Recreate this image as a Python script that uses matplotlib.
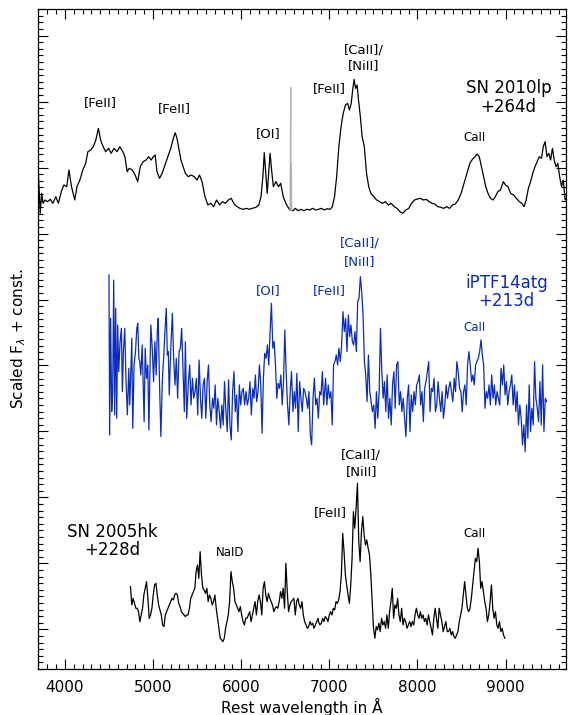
import numpy as np
import matplotlib
matplotlib.use("Agg")
import matplotlib.pyplot as plt
from matplotlib.ticker import MultipleLocator, NullFormatter

plt.rcParams['font.family'] = ['DejaVu Sans']

# ---------------- SN 2010lp (+264d), black -----------------
top_wave = [3699, 3720, 3736, 3753, 3774, 3802, 3835, 3864, 3897, 3926, 3959, 3988, 4021, 4046, 4075,
            4112, 4137, 4170, 4203, 4236, 4261, 4294, 4322, 4351, 4380, 4405, 4434, 4463, 4496, 4525,
            4558, 4591, 4624, 4657, 4681, 4706, 4731, 4764, 4797, 4826, 4855, 4888, 4921, 4950, 4979,
            5003, 5024, 5045, 5074, 5103, 5135, 5168, 5201, 5230, 5251, 5272, 5292, 5317, 5342, 5367,
            5400, 5433, 5466, 5499, 5527, 5556, 5589, 5622, 5655, 5688, 5721, 5755, 5788, 5820, 5854,
            5887, 5920, 5953, 5986, 6023, 6060, 6093, 6126, 6167, 6200, 6225, 6246, 6262, 6279, 6295,
            6312, 6328, 6345, 6365, 6394, 6423, 6448, 6477, 6506, 6539, 6555, 6588, 6613, 6646, 6679,
            6712, 6745, 6778, 6811, 6844, 6877, 6910, 6943, 6976, 7009, 7034, 7059, 7083, 7108, 7133,
            7158, 7183, 7207, 7228, 7248, 7265, 7281, 7298, 7315, 7331, 7352, 7372, 7397, 7422, 7447,
            7471, 7504, 7537, 7570, 7603, 7636, 7669, 7702, 7735, 7768, 7801, 7834, 7867, 7901, 7933,
            7966, 7999, 8033, 8066, 8099, 8132, 8165, 8198, 8231, 8264, 8297, 8330, 8363, 8396, 8429,
            8462, 8495, 8528, 8561, 8594, 8623, 8652, 8676, 8701, 8726, 8751, 8775, 8800, 8829, 8858,
            8883, 8912, 8941, 8974, 8998, 9027, 9056, 9089, 9122, 9155, 9184, 9209, 9233, 9258, 9283,
            9308, 9333, 9357, 9382, 9407, 9427, 9448, 9469, 9490, 9510, 9531, 9551, 9572, 9592, 9613,
            9634, 9654, 9675, 9696]
top_flux = [1.80, 0.60, 1.20, 0.90, 1.00, 0.95, 1.02, 0.90, 1.10, 0.90, 1.25, 1.45, 1.40, 1.90, 1.40,
            1.00, 1.40, 1.60, 1.90, 2.10, 2.45, 2.50, 2.60, 2.80, 3.15, 2.80, 2.60, 2.45, 2.55, 2.40,
            2.55, 2.45, 2.60, 2.45, 2.30, 1.85, 1.95, 1.90, 1.75, 1.55, 2.00, 2.15, 2.20, 2.30, 2.20,
            2.30, 2.35, 1.85, 1.65, 1.80, 2.05, 2.30, 2.55, 2.85, 3.02, 2.85, 2.55, 2.20, 2.00, 1.80,
            1.70, 1.75, 1.70, 1.60, 1.75, 1.55, 1.10, 0.85, 0.90, 0.80, 1.00, 0.85, 0.95, 0.90, 1.00,
            1.05, 0.88, 0.80, 0.75, 0.72, 0.75, 0.72, 0.75, 0.78, 0.85, 1.10, 1.70, 2.42, 1.80, 1.20,
            1.80, 2.40, 1.90, 1.40, 1.55, 1.40, 1.50, 1.10, 0.90, 0.75, 0.70, 0.68, 0.75, 0.68, 0.72,
            0.68, 0.72, 0.70, 0.75, 0.70, 0.72, 0.75, 0.70, 0.74, 0.72, 0.80, 1.10, 1.70, 2.60, 3.20,
            3.60, 3.85, 3.90, 3.70, 3.90, 4.30, 4.62, 4.35, 4.45, 4.00, 3.50, 2.90, 2.60, 1.80, 1.40,
            1.20, 1.10, 1.00, 0.95, 0.90, 0.95, 0.85, 0.90, 0.80, 0.75, 0.65, 0.60, 0.70, 0.75, 0.90,
            1.00, 1.03, 1.05, 1.00, 1.02, 0.95, 0.90, 0.88, 0.80, 0.78, 0.75, 0.80, 0.75, 0.85, 0.88,
            1.00, 1.20, 1.50, 1.80, 2.10, 2.22, 2.30, 2.38, 2.30, 2.00, 1.70, 1.40, 1.20, 1.05, 1.00,
            1.10, 1.25, 1.30, 1.55, 1.45, 1.40, 1.20, 1.15, 1.05, 0.95, 0.90, 0.80, 1.00, 1.35, 1.55,
            1.80, 2.00, 2.15, 2.30, 2.25, 2.60, 2.75, 2.30, 2.40, 2.20, 2.55, 2.20, 2.00, 2.10, 1.70,
            1.40, 1.60, 1.00, 1.10]
# narrow H-alpha region shown in grey
top_halpha_wave = [6555, 6562, 6565, 6569, 6573]
top_halpha_flux = [0.70, 4.38, 0.75, 2.10, 0.68]
top_scale, top_const = 0.505, 6.003

# ---------------- iPTF14atg (+213d), blue -----------------
mid_wave_a = [4500, 4508, 4519, 4531, 4542, 4554, 4565, 4576, 4588, 4599, 4611, 4626, 4641, 4652, 4664,
              4679, 4694, 4709, 4725, 4736, 4747, 4759, 4770, 4785, 4801, 4816, 4827, 4839, 4850, 4861,
              4877, 4888, 4899, 4911, 4926, 4941, 4953, 4964, 4975, 4991, 5006, 5021, 5036, 5048, 5059,
              5074, 5089, 5105, 5120, 5135, 5150, 5162, 5173, 5184, 5203, 5219, 5234, 5249, 5264, 5279,
              5295, 5310, 5325, 5340, 5355, 5367, 5382, 5401, 5416, 5431, 5447, 5462, 5477, 5492, 5507,
              5523, 5538, 5553, 5568, 5583, 5599, 5614, 5629, 5644, 5659, 5675, 5690, 5705, 5720, 5735,
              5751, 5766, 5781, 5796, 5811, 5827, 5842, 5857, 5872, 5887, 5903, 5918, 5933, 5948, 5963,
              5979, 5994, 6009, 6024, 6039, 6055, 6070, 6085, 6100, 6115, 6131, 6146, 6161, 6176, 6191,
              6207, 6222, 6237, 6252, 6267, 6283, 6298, 6313, 6328, 6343, 6359, 6374, 6389, 6404, 6419,
              6435, 6450, 6465, 6480, 6495, 6511, 6526, 6541, 6556, 6571, 6587, 6602, 6617, 6632, 6647,
              6663, 6678, 6693, 6708, 6723, 6739, 6754, 6769, 6784, 6799, 6815, 6830, 6845, 6860, 6875,
              6891, 6906, 6921, 6936]
mid_flux_a = [5.70, 0.90, 4.40, 1.60, 2.20, 5.55, 1.50, 4.70, 1.40, 4.20, 2.80, 3.70, 4.10, 2.20, 3.40,
              4.10, 2.50, 1.50, 2.90, 1.80, 2.70, 3.80, 1.10, 3.00, 3.40, 4.10, 4.25, 3.20, 3.10, 2.70,
              3.60, 2.50, 1.30, 3.50, 2.60, 3.00, 1.05, 2.70, 4.20, 3.50, 2.50, 3.70, 2.70, 4.00, 4.40,
              2.40, 0.85, 2.50, 3.20, 4.00, 4.70, 3.30, 3.40, 2.10, 3.60, 4.55, 3.20, 2.40, 3.20, 2.00,
              3.40, 3.50, 4.10, 2.90, 1.60, 3.70, 1.40, 2.50, 3.00, 1.80, 2.60, 2.00, 2.20, 2.60, 1.50,
              3.15, 2.00, 1.40, 2.40, 2.60, 1.40, 2.50, 3.00, 1.80, 1.30, 2.00, 1.70, 2.40, 1.20, 2.00,
              1.60, 1.10, 1.80, 1.20, 2.50, 1.60, 1.00, 2.55, 1.20, 0.75, 2.20, 2.80, 1.60, 2.10, 1.00,
              2.40, 1.80, 2.20, 2.30, 1.80, 2.20, 1.80, 2.00, 2.50, 1.50, 2.30, 2.00, 2.70, 1.90, 2.20,
              3.00, 2.40, 0.95, 2.60, 3.35, 3.20, 3.60, 3.00, 4.00, 4.85, 3.50, 3.70, 3.00, 2.00, 2.45,
              2.30, 2.70, 1.80, 2.50, 4.05, 2.70, 1.80, 1.20, 2.20, 2.80, 1.60, 2.20, 1.70, 2.75, 1.00,
              2.50, 2.00, 1.60, 2.30, 2.20, 2.00, 1.70, 2.20, 0.90, 0.60, 2.00, 2.60, 1.80, 2.00, 1.40,
              2.20, 2.10, 2.80, 1.80]
# second part sampled on a regular grid from 6957 A to 9465 A
mid_wave_b_range = (6957, 9465)
mid_flux_b = [2.60, 1.80, 2.40, 2.00, 2.20, 1.20, 3.00, 3.10, 3.30, 3.00, 3.50, 3.10, 3.60, 4.60, 4.00,
              4.40, 3.40, 4.50, 3.85, 4.20, 3.70, 3.60, 4.00, 3.40, 4.90, 5.00, 5.65, 5.20, 4.50, 3.10,
              2.70, 1.90, 3.30, 2.20, 1.90, 1.60, 1.80, 1.10, 2.20, 1.40, 2.20, 4.10, 2.80, 2.00, 2.50,
              1.60, 2.70, 1.40, 2.00, 1.20, 2.40, 2.80, 1.70, 3.00, 3.10, 1.80, 2.20, 1.60, 2.00, 1.40,
              0.85, 2.00, 2.40, 1.00, 2.10, 1.60, 2.20, 1.80, 2.40, 2.50, 2.70, 1.80, 2.20, 1.30, 2.30,
              2.50, 2.80, 3.10, 1.60, 2.30, 2.20, 2.60, 1.60, 1.80, 2.50, 2.00, 1.60, 2.20, 1.40, 1.80,
              2.40, 2.00, 2.30, 2.50, 2.20, 1.90, 2.60, 2.20, 3.10, 2.80, 2.30, 2.20, 1.60, 2.20, 2.40,
              1.80, 3.00, 3.40, 3.00, 2.50, 2.70, 2.40, 3.00, 3.10, 3.20, 3.40, 3.75, 3.30, 3.00, 1.70,
              2.20, 2.00, 2.40, 1.80, 2.70, 2.00, 2.40, 1.80, 2.20, 2.00, 1.80, 2.90, 2.40, 3.00, 2.10,
              2.50, 1.80, 2.20, 2.40, 2.70, 1.80, 2.40, 1.60, 2.20, 1.20, 1.80, 1.40, 0.60, 1.20, 0.40,
              1.80, 0.80, 2.40, 1.00, 1.70, 1.20, 3.10, 2.00, 1.70, 1.30, 2.50, 1.20, 3.00, 1.00, 2.00,
              1.90]
mid_scale, mid_const = 0.505, 2.493

# ---------------- SN 2005hk (+228d), black -----------------
bot_wave_a_range = (4744, 6872)
bot_flux_a = [2.15, 1.60, 1.80, 1.65, 1.50, 1.50, 1.40, 1.10, 1.30, 1.50, 1.90, 2.10, 2.30, 1.80, 1.20,
              1.30, 1.50, 1.90, 2.20, 2.25, 1.90, 1.60, 1.45, 1.30, 1.00, 0.95, 1.30, 1.40, 1.50, 1.60,
              1.70, 1.80, 1.75, 1.90, 1.95, 1.90, 1.65, 1.55, 1.40, 1.35, 1.30, 1.25, 1.30, 1.30, 1.50,
              1.80, 1.90, 2.00, 2.10, 2.60, 2.80, 2.40, 3.20, 2.50, 2.10, 2.05, 1.95, 2.10, 1.70, 1.90,
              1.80, 1.60, 1.70, 1.90, 1.50, 1.20, 0.90, 0.60, 0.55, 0.50, 0.60, 0.90, 1.10, 1.30, 1.70,
              2.60, 2.30, 2.10, 1.70, 1.60, 1.50, 1.40, 1.55, 1.30, 1.10, 1.00, 1.20, 1.20, 1.30, 1.40,
              1.10, 1.30, 1.50, 1.70, 1.30, 1.70, 1.90, 1.70, 1.30, 2.10, 2.30, 1.90, 1.70, 1.95, 1.80,
              1.70, 1.60, 1.40, 1.50, 1.55, 1.50, 1.70, 2.00, 1.80, 2.10, 1.50, 2.85, 2.00, 1.40, 1.60,
              1.70, 1.75, 1.80, 1.30, 1.70, 1.80, 1.60, 1.50, 1.70, 1.30, 1.10, 1.00, 0.90, 0.95, 1.10,
              1.00, 1.05, 0.90, 1.00, 1.10, 1.20]
bot_wave_b_range = (6878, 8991)
bot_flux_b = [1.10, 1.00, 1.05, 1.20, 1.10, 1.25, 1.20, 1.10, 1.30, 1.40, 1.30, 1.50, 1.45, 1.70, 1.65,
              1.75, 2.00, 2.50, 3.75, 3.20, 2.50, 2.20, 1.90, 1.65, 2.20, 3.00, 4.40, 3.90, 4.50, 5.25,
              3.50, 2.90, 3.80, 4.25, 3.70, 3.40, 3.55, 3.30, 3.10, 2.50, 1.70, 0.90, 0.60, 0.95, 0.85,
              1.05, 0.80, 1.20, 1.00, 1.10, 0.90, 1.30, 0.90, 1.40, 1.70, 2.10, 1.20, 1.60, 1.50, 1.80,
              1.30, 1.10, 1.50, 1.00, 1.20, 1.10, 0.90, 1.00, 1.10, 0.95, 1.10, 1.00, 1.30, 1.50, 1.30,
              1.20, 1.40, 1.20, 1.30, 1.10, 1.20, 1.00, 1.30, 1.10, 0.90, 0.70, 1.20, 1.50, 1.20, 0.90,
              1.50, 1.30, 1.10, 0.80, 0.95, 1.10, 0.80, 0.80, 0.90, 0.70, 0.80, 0.65, 0.60, 0.70, 0.80,
              1.10, 1.30, 1.50, 1.90, 2.30, 1.90, 1.50, 1.40, 1.50, 1.80, 2.20, 2.60, 3.00, 2.90, 3.30,
              2.90, 2.10, 2.30, 2.00, 1.70, 1.50, 1.10, 1.30, 1.70, 2.20, 1.50, 1.20, 1.40, 1.00, 0.90,
              1.10, 0.80, 0.90, 0.70, 0.60]
bot_scale, bot_const = 0.505, -0.437

# ---------------- figure -----------------
BLUE = '#0a2cbf'
fig = plt.figure(figsize=(5.68, 7.15), dpi=100)
ax = fig.add_axes([0.0669, 0.0643, 0.9296, 0.9238])

tw = np.array(top_wave); tf = np.array(top_flux)
ax.plot(tw, top_const + top_scale * tf, color='black', lw=0.9)
ax.plot(top_halpha_wave, top_const + top_scale * np.array(top_halpha_flux), color='#b0b0b0', lw=0.9)

mw = np.concatenate([mid_wave_a, np.linspace(*mid_wave_b_range, len(mid_flux_b))])
mf = np.concatenate([mid_flux_a, mid_flux_b])
ax.plot(mw, mid_const + mid_scale * mf, color=BLUE, lw=0.9)

bw = np.concatenate([np.linspace(*bot_wave_a_range, len(bot_flux_a)),
                     np.linspace(*bot_wave_b_range, len(bot_flux_b))])
bf = np.concatenate([bot_flux_a, bot_flux_b])
ax.plot(bw, bot_const + bot_scale * bf, color='black', lw=0.9)

ax.set_xlim(3695, 9685)
ax.set_ylim(-0.6, 9.41)

ax.xaxis.set_major_locator(MultipleLocator(1000))
ax.xaxis.set_minor_locator(MultipleLocator(100))
ax.yaxis.set_major_locator(MultipleLocator(1))
ax.yaxis.set_minor_locator(MultipleLocator(0.1))
ax.yaxis.set_major_formatter(NullFormatter())
ax.tick_params(which='both', direction='in', top=True, right=True, width=0.8)
ax.tick_params(which='major', length=7)
ax.tick_params(which='minor', length=3.5)
ax.tick_params(axis='x', labelsize=11, pad=8)
for s in ax.spines.values():
    s.set_linewidth(0.9)

ax.set_xlabel('Rest wavelength in Å', fontsize=11, labelpad=2)
ax.set_ylabel(r'Scaled F$_{\lambda}$ + const.', fontsize=11, labelpad=4)

LAB = 9.5
# top spectrum labels
ax.text(4404, 7.98, '[FeII]', ha='center', va='center', fontsize=LAB)
ax.text(5246, 7.90, '[FeII]', ha='center', va='center', fontsize=LAB)
ax.text(6312, 7.52, '[OI]', ha='center', va='center', fontsize=LAB)
ax.text(6999, 8.20, '[FeII]', ha='center', va='center', fontsize=LAB)
ax.text(7394, 8.78, '[CaII]/', ha='center', va='center', fontsize=LAB)
ax.text(7394, 8.55, '[NiII]', ha='center', va='center', fontsize=LAB)
ax.text(8643, 7.46, 'CaII', ha='center', va='center', fontsize=8.5)
ax.text(9034, 8.20, 'SN 2010lp', ha='center', va='center', fontsize=12)
ax.text(9034, 7.91, '+264d', ha='center', va='center', fontsize=12)

# middle spectrum labels
ax.text(6312, 5.14, '[OI]', ha='center', va='center', fontsize=LAB, color=BLUE)
ax.text(6999, 5.14, '[FeII]', ha='center', va='center', fontsize=LAB, color=BLUE)
ax.text(7342, 5.86, '[CaII]/', ha='center', va='center', fontsize=LAB, color=BLUE)
ax.text(7342, 5.57, '[NiII]', ha='center', va='center', fontsize=LAB, color=BLUE)
ax.text(8643, 4.57, 'CaII', ha='center', va='center', fontsize=8.5, color=BLUE)
ax.text(9012, 5.25, 'iPTF14atg', ha='center', va='center', fontsize=12, color=BLUE)
ax.text(9012, 4.97, '+213d', ha='center', va='center', fontsize=12, color=BLUE)

# bottom spectrum labels
ax.text(7361, 2.64, '[CaII]/', ha='center', va='center', fontsize=LAB)
ax.text(7361, 2.40, '[NiII]', ha='center', va='center', fontsize=LAB)
ax.text(7012, 1.77, '[FeII]', ha='center', va='center', fontsize=LAB)
ax.text(5877, 1.16, 'NaID', ha='center', va='center', fontsize=8.5)
ax.text(8643, 1.46, 'CaII', ha='center', va='center', fontsize=8.5)
ax.text(4535, 1.48, 'SN 2005hk', ha='center', va='center', fontsize=12)
ax.text(4535, 1.20, '+228d', ha='center', va='center', fontsize=12)

fig.savefig('out.png', dpi=100)
